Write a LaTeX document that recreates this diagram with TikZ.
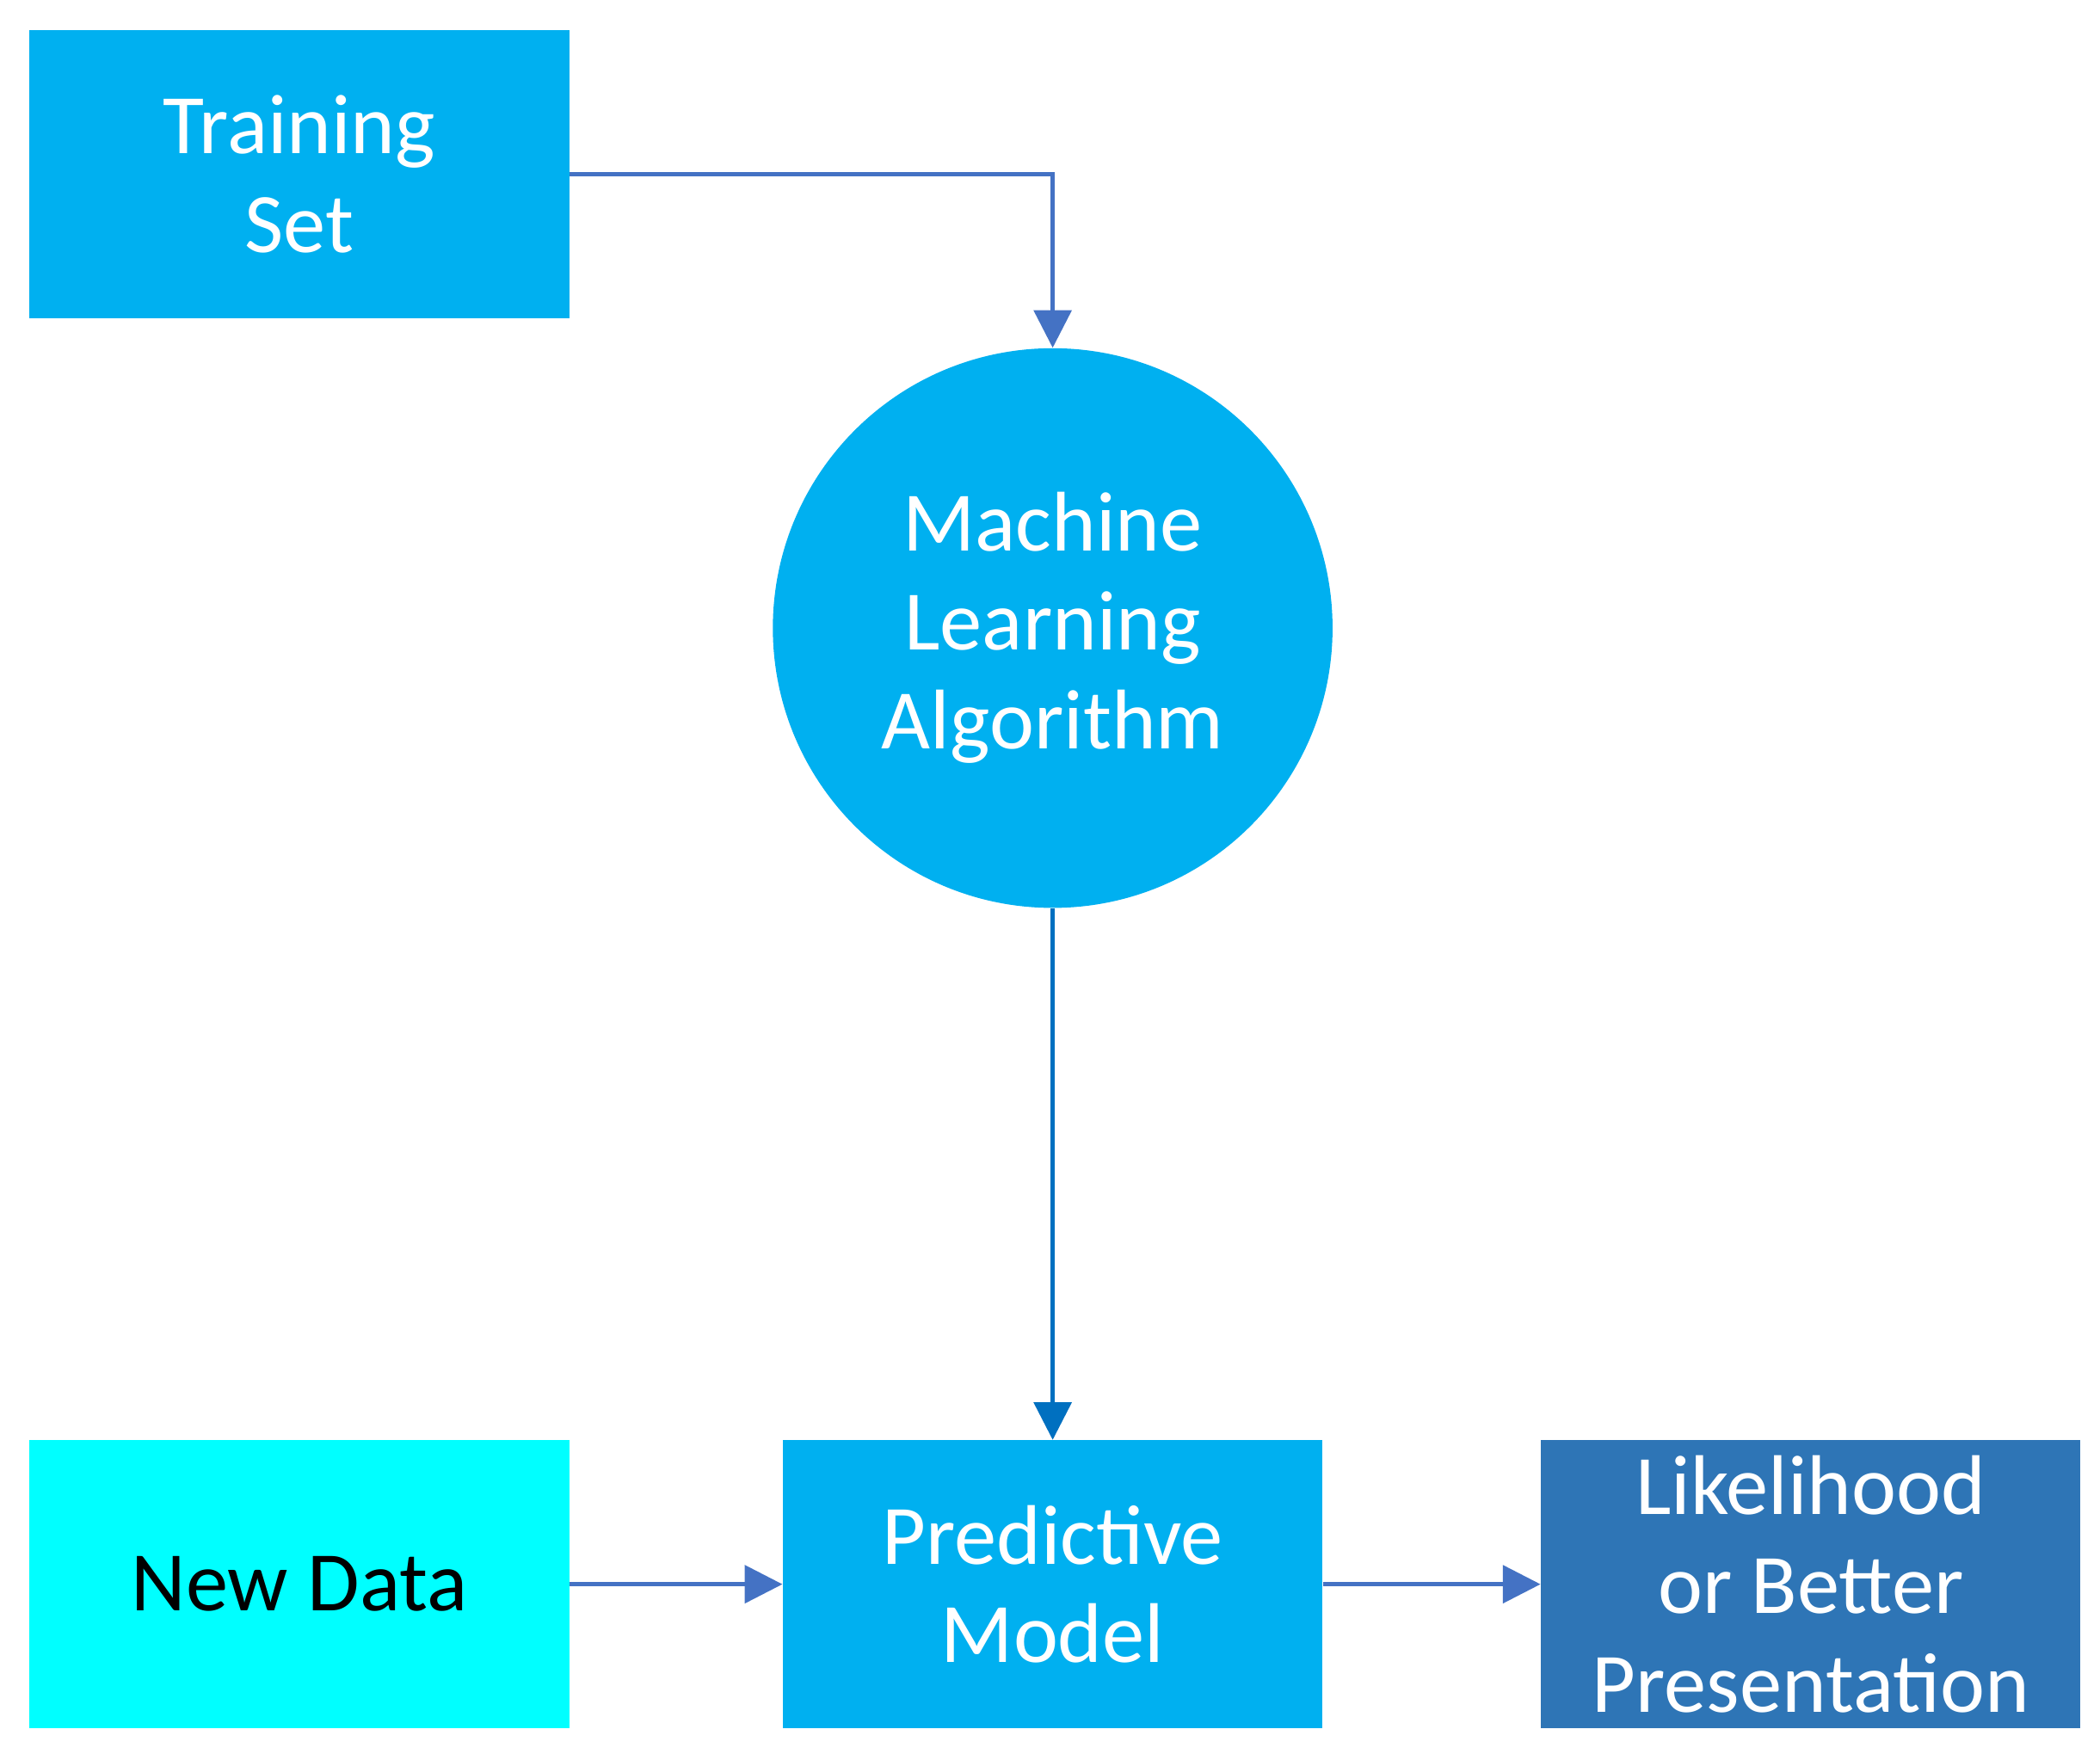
\documentclass[tikz,border=0pt]{standalone}
\usepackage{fontspec}
\setmainfont{Carlito}
\usetikzlibrary{arrows.meta}
\definecolor{boxblue}{HTML}{00B0F0}
\definecolor{cyanbox}{HTML}{00FFFF}
\definecolor{darkbox}{HTML}{2E75B6}
\definecolor{arr}{HTML}{4472C4}
\definecolor{arr2}{HTML}{0070C0}
\begin{document}
\begin{tikzpicture}[x=0.02cm,y=-0.02cm,
  box/.style={draw=none,minimum width=8.06cm,minimum height=4.3cm,align=center,text=white,font=\fontsize{36}{42}\selectfont},
  con/.style={line width=1.6pt,draw=arr,-{Triangle[length=16pt,width=16pt]}}]
\fill[white] (0,0) rectangle (1568,1314);
\node[box,fill=boxblue] (ts) at (223.5,130) {Training\\Set};
\node[circle,fill=boxblue,minimum size=8.36cm,inner sep=0pt,align=center,text=white,font=\fontsize{36}{42}\selectfont] (ml) at (786,469) {Machine\\Learning\\Algorithm};
\node[box,fill=cyanbox,text=black] (nd) at (223.5,1183) {New Data};
\node[box,fill=boxblue] (pm) at (786,1183) {Predictive\\Model};
\node[box,fill=darkbox] (lk) at (1352,1183) {Likelihood\\or Better\\Presentation};
\draw[con] (ts.east) -| (ml.north);
\draw[con,draw=arr2] (ml.south) -- (pm.north);
\draw[con] (nd.east) -- (pm.west);
\draw[con] (pm.east) -- (lk.west);
\end{tikzpicture}
\end{document}
